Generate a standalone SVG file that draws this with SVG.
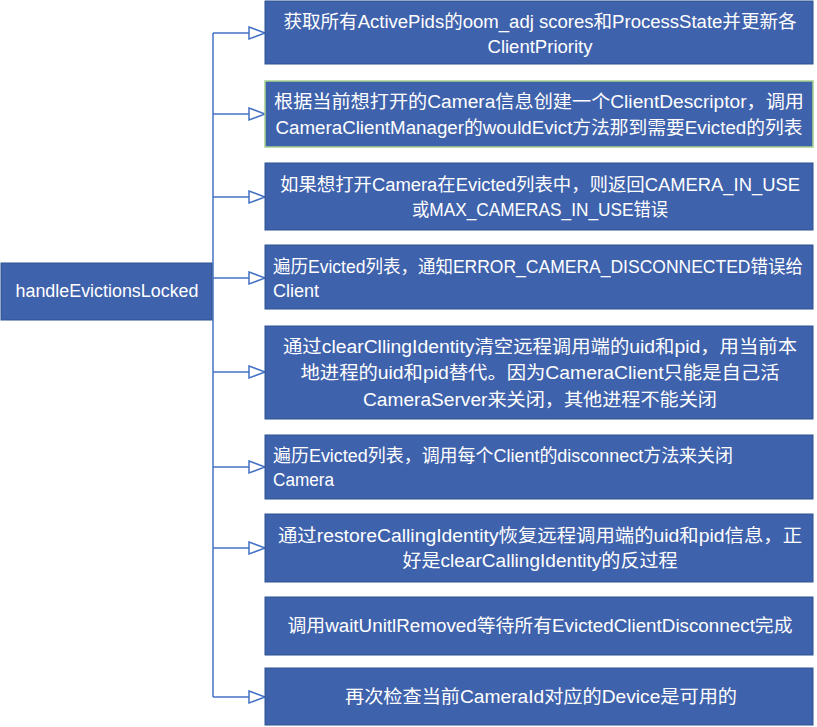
<svg xmlns="http://www.w3.org/2000/svg" width="817" height="727" viewBox="0 0 817 727">
<style>
.box{fill:#3F62AC;stroke:#2F528F;stroke-width:1}
.boxg{fill:#3F62AC;stroke:#A9D18E;stroke-width:1.5}
.t{fill:#FFFFFF;font-family:"Liberation Sans","Noto Sans CJK SC",sans-serif;font-size:18px}
.c{text-anchor:middle}
.conn{fill:none;stroke:#4472C4;stroke-width:1.5}
</style>
<defs>
<marker id="arr" viewBox="0 0 18 14" refX="17" refY="7" markerWidth="18" markerHeight="14" markerUnits="userSpaceOnUse" orient="auto" overflow="visible">
<path d="M1,1 L17,7 L1,13 Z" fill="#FFFFFF" stroke="#4472C4" stroke-width="1.5"/>
</marker>
</defs>
<rect width="817" height="727" fill="#FFFFFF"/>
<g id="connectors">
<path class="conn" d="M213,33 V697"/>
<path class="conn" d="M213,33 H265" marker-end="url(#arr)"/>
<path class="conn" d="M213,114 H265" marker-end="url(#arr)"/>
<path class="conn" d="M213,197 H265" marker-end="url(#arr)"/>
<path class="conn" d="M213,278 H265" marker-end="url(#arr)"/>
<path class="conn" d="M213,372 H265" marker-end="url(#arr)"/>
<path class="conn" d="M213,467 H265" marker-end="url(#arr)"/>
<path class="conn" d="M213,548 H265" marker-end="url(#arr)"/>
<path class="conn" d="M213,697 H265" marker-end="url(#arr)"/>
</g>
<g id="root">
<rect class="box" x="1" y="263" width="211" height="57"/>
<text class="t c" x="107" y="297" textLength="183" lengthAdjust="spacingAndGlyphs">handleEvictionsLocked</text>
</g>
<g id="n1">
<rect class="box" x="265" y="1" width="548" height="63"/>
<text class="t c" x="540" y="28" textLength="513" lengthAdjust="spacingAndGlyphs">获取所有ActivePids的oom_adj scores和ProcessState并更新各</text>
<text class="t c" x="540" y="53" textLength="105" lengthAdjust="spacingAndGlyphs">ClientPriority</text>
</g>
<g id="n2">
<rect class="boxg" x="265" y="81" width="548" height="66"/>
<text class="t c" x="539" y="108" textLength="530" lengthAdjust="spacingAndGlyphs">根据当前想打开的Camera信息创建一个ClientDescriptor，调用</text>
<text class="t c" x="539" y="134" textLength="527" lengthAdjust="spacingAndGlyphs">CameraClientManager的wouldEvict方法那到需要Evicted的列表</text>
</g>
<g id="n3">
<rect class="box" x="265" y="163" width="548" height="67"/>
<text class="t c" x="540" y="191" textLength="520" lengthAdjust="spacingAndGlyphs">如果想打开Camera在Evicted列表中，则返回CAMERA_IN_USE</text>
<text class="t c" x="540" y="216" textLength="256" lengthAdjust="spacingAndGlyphs">或MAX_CAMERAS_IN_USE错误</text>
</g>
<g id="n4">
<rect class="box" x="265" y="245" width="548" height="64"/>
<text class="t" x="273" y="273" textLength="530" lengthAdjust="spacingAndGlyphs">遍历Evicted列表，通知ERROR_CAMERA_DISCONNECTED错误给</text>
<text class="t" x="273" y="297" textLength="46" lengthAdjust="spacingAndGlyphs">Client</text>
</g>
<g id="n5">
<rect class="box" x="265" y="326" width="548" height="93"/>
<text class="t c" x="540" y="353" textLength="514" lengthAdjust="spacingAndGlyphs">通过clearCllingIdentity清空远程调用端的uid和pid，用当前本</text>
<text class="t c" x="540" y="379" textLength="479" lengthAdjust="spacingAndGlyphs">地进程的uid和pid替代。因为CameraClient只能是自己活</text>
<text class="t c" x="540" y="406" textLength="354" lengthAdjust="spacingAndGlyphs">CameraServer来关闭，其他进程不能关闭</text>
</g>
<g id="n6">
<rect class="box" x="265" y="435" width="548" height="64"/>
<text class="t" x="273" y="462" textLength="460" lengthAdjust="spacingAndGlyphs">遍历Evicted列表，调用每个Client的disconnect方法来关闭</text>
<text class="t" x="273" y="486" textLength="61" lengthAdjust="spacingAndGlyphs">Camera</text>
</g>
<g id="n7">
<rect class="box" x="265" y="514" width="548" height="68"/>
<text class="t c" x="540" y="542" textLength="524" lengthAdjust="spacingAndGlyphs">通过restoreCallingIdentity恢复远程调用端的uid和pid信息，正</text>
<text class="t c" x="540" y="567" textLength="275" lengthAdjust="spacingAndGlyphs">好是clearCallingIdentity的反过程</text>
</g>
<g id="n8">
<rect class="box" x="265" y="597" width="548" height="58"/>
<text class="t c" x="540" y="632" textLength="505" lengthAdjust="spacingAndGlyphs">调用waitUnitlRemoved等待所有EvictedClientDisconnect完成</text>
</g>
<g id="n9">
<rect class="box" x="265" y="668" width="548" height="57"/>
<text class="t c" x="541" y="703" textLength="392" lengthAdjust="spacingAndGlyphs">再次检查当前CameraId对应的Device是可用的</text>
</g>
</svg>
